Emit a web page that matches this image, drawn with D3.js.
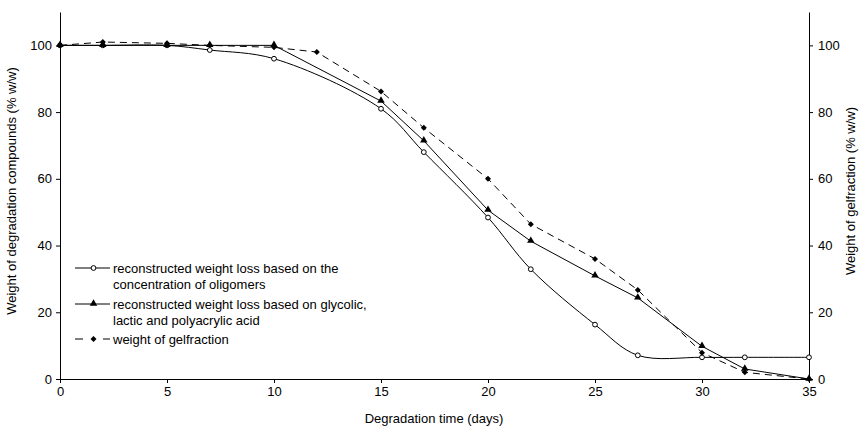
<!DOCTYPE html>
<html><head><meta charset="utf-8">
<script src="https://cdn.jsdelivr.net/npm/d3@7"></script>
<style>body{margin:0;background:#fff}svg{font-family:"Liberation Sans",Arial,sans-serif}</style>
</head><body>
<svg id="c" width="864" height="427"></svg>
<script>
const oligDays = [0, 2, 5, 7, 10, 15, 17, 20, 22, 25, 27, 30, 32, 35];
const oligVals = [100, 100, 100, 98.6, 96, 81, 68, 48.4, 32.9, 16.3, 7.1, 6.5, 6.5, 6.5];
const acidDays = [0, 2, 5, 7, 10, 15, 17, 20, 22, 25, 27, 30, 32, 35];
const acidVals = [100, 100, 100, 100, 100, 83.3, 71.4, 50.6, 41.3, 30.9, 24.3, 9.8, 3, 0];
const gelDays = [0, 2, 5, 7, 10, 12, 15, 17, 20, 22, 25, 27, 30, 32, 35];
const gelVals = [100, 101, 100.6, 100, 99.4, 98, 86.2, 75.3, 60, 46.4, 36, 26.7, 7.9, 2, 0];
const xTicks = [0, 5, 10, 15, 20, 25, 30, 35];
const yTicks = [0, 20, 40, 60, 80, 100];
const legendLabels = [
  ["reconstructed weight loss based on the", "concentration of oligomers"],
  ["reconstructed weight loss based on glycolic,", "lactic and polyacrylic acid"],
  ["weight of gelfraction"]
];

const svg = d3.select("#c");
const L = 60, R = 809, T = 12, B = 379;
const x = d3.scaleLinear().domain([0, 35]).range([L, R]);
const y = d3.scaleLinear().domain([0, 110]).range([B, T]);
const yR = d3.scaleLinear().domain([0, 110]).range([B, T]);

const fs = "13px";
const gx = svg.append("g").attr("transform", `translate(0,${B})`)
  .call(d3.axisBottom(x).tickValues(xTicks).tickSize(4).tickPadding(4).tickSizeOuter(0));
const gy = svg.append("g").attr("transform", `translate(${L},0)`)
  .call(d3.axisLeft(y).tickValues(yTicks).tickSize(4).tickPadding(4).tickSizeOuter(0));
const gr = svg.append("g").attr("transform", `translate(${R},0)`)
  .call(d3.axisRight(yR).tickValues(yTicks).tickSize(4).tickPadding(5).tickSizeOuter(0));
[gx, gy, gr].forEach(g => {
  g.selectAll("text").attr("font-size", fs).attr("fill", "#000").attr("font-family", "Liberation Sans, Arial, sans-serif");
  g.selectAll("line,path").attr("stroke", "#000");
});

svg.append("text").attr("x", 434).attr("y", 423).attr("text-anchor", "middle")
  .attr("font-size", fs).text("Degradation time (days)");
svg.append("text").attr("transform", `translate(16,191) rotate(-90)`)
  .attr("text-anchor", "middle").attr("font-size", fs).text("Weight of degradation compounds (% w/w)");
svg.append("text").attr("transform", `translate(855,191) rotate(-90)`)
  .attr("text-anchor", "middle").attr("font-size", fs).text("Weight of gelfraction (% w/w)");

const olig = oligDays.map((d, i) => [d, oligVals[i]]);
const acid = acidDays.map((d, i) => [d, acidVals[i]]);
const gel = gelDays.map((d, i) => [d, gelVals[i]]);

const lineS = d3.line().x(d => x(d[0])).y(d => y(d[1])).curve(d3.curveCatmullRom.alpha(0.5));
const lineL = d3.line().x(d => x(d[0])).y(d => y(d[1]));

svg.append("path").attr("d", lineL(gel)).attr("fill", "none").attr("stroke", "#000")
  .attr("stroke-width", 1).attr("stroke-dasharray", "7,5");
svg.append("path").attr("d", lineL(acid)).attr("fill", "none").attr("stroke", "#000").attr("stroke-width", 1);
svg.append("path").attr("d", lineS(olig)).attr("fill", "none").attr("stroke", "#000").attr("stroke-width", 1);

const tri = d3.symbol().type(d3.symbolTriangle).size(24);
const dia = d3.symbol().type(d3.symbolSquare).size(18);

function circ(g, cx, cy) {
  g.append("circle").attr("cx", cx).attr("cy", cy).attr("r", 2.4).attr("fill", "#fff").attr("stroke", "#000").attr("stroke-width", 1);
}
function triM(g, cx, cy) {
  g.append("path").attr("d", tri).attr("transform", `translate(${cx},${cy - 0.5})`).attr("fill", "#000");
}
function diaM(g, cx, cy) {
  g.append("path").attr("d", dia).attr("transform", `translate(${cx},${cy}) rotate(45)`).attr("fill", "#000");
}
const m = svg.append("g");
olig.forEach(d => circ(m, x(d[0]), y(d[1])));
acid.forEach(d => triM(m, x(d[0]), y(d[1])));
gel.forEach(d => diaM(m, x(d[0]), y(d[1])));

// legend
const lg = svg.append("g");
const rows = [268, 304, 339];
const lx1 = 75, lx2 = 110, tx = 113;
rows.forEach((ry, i) => {
  const ln = lg.append("line").attr("x1", lx1).attr("x2", lx2).attr("y1", ry).attr("y2", ry).attr("stroke", "#000");
  if (i === 2) ln.attr("stroke-dasharray", "8,20,7");
  const mx = (lx1 + lx2) / 2 + 1;
  if (i === 0) circ(lg, mx, ry);
  if (i === 1) triM(lg, mx, ry);
  if (i === 2) diaM(lg, mx, ry);
  legendLabels[i].forEach((t, j) => {
    lg.append("text").attr("x", tx).attr("y", ry + 4.5 + j * 16).attr("font-size", fs).text(t);
  });
});
</script>
</body></html>
